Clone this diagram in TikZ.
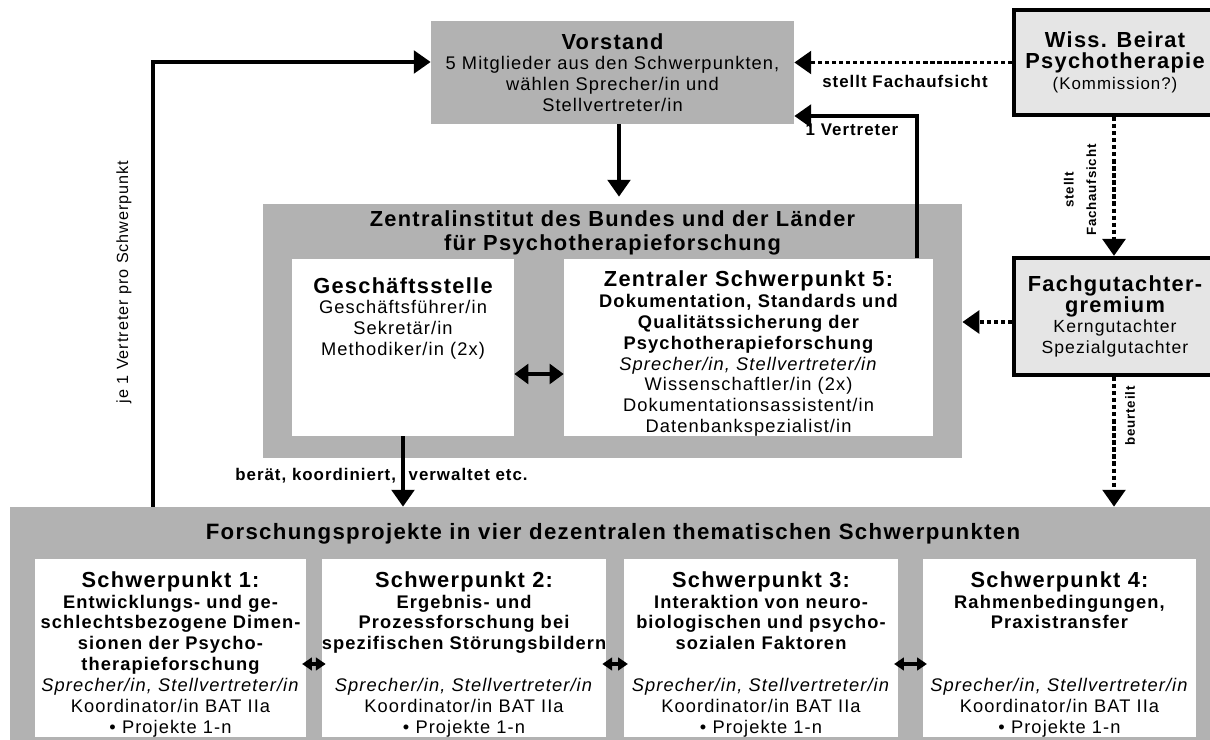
\documentclass[tikz,border=0pt]{standalone}
\usepackage{fontspec}
\setmainfont{Liberation Sans}[LetterSpace=6]
\usetikzlibrary{arrows.meta}

\newcommand{\grundschrift}{\fontsize{13}{14.8}\selectfont}
\newcommand{\kopfschrift}{\bfseries\fontsize{15.5}{17.5}\selectfont}
\newcommand{\unterschrift}{\bfseries\fontsize{13}{14.8}\selectfont}
\newcommand{\oben}{\rule{0pt}{20pt}}

\begin{document}
\begin{tikzpicture}[x=0.025cm,y=-0.025cm,
  grau/.style={fill=black!30,inner sep=0pt},
  weiss/.style={fill=white,inner sep=0pt,align=center,font=\grundschrift},
  hell/.style={fill=black!10,draw=black,line width=3pt,inner sep=0pt,align=center,font=\grundschrift},
  pfeil/.style={line width=2.8pt,-{Triangle[length=12pt,width=16pt]}},
  punktpfeil/.style={pfeil,dash pattern=on 3pt off 2pt},
  doppel/.style={line width=2.8pt,{Triangle[length=10pt,width=14pt]}-{Triangle[length=10pt,width=14pt]}},
  klein/.style={line width=2.8pt,{Triangle[length=7pt,width=9pt]}-{Triangle[length=7pt,width=9pt]},shorten <=-3pt,shorten >=-3pt},
  beschr/.style={font=\bfseries\fontsize{12}{14}\selectfont,inner sep=0pt,align=center},
  drehbeschr/.style={font=\bfseries\fontsize{9.5}{16}\selectfont,inner sep=0pt,align=center,rotate=90}]
\clip (0,0) rectangle (1210,740);

% obere Ebene
\node[grau,align=center,font=\grundschrift,minimum width=9.075cm,minimum height=2.575cm] (vorstand) at (612.5,72.5)
  {{\kopfschrift Vorstand}\\5 Mitglieder aus den Schwerpunkten,\\wählen Sprecher/in und\\Stellvertreter/in};
\node[hell,minimum width=5.05cm,minimum height=2.625cm] (beirat) at (1115,62.5)
  {{\kopfschrift Wiss. Beirat}\\{\kopfschrift Psychotherapie}\\{\fontsize{12}{14}\selectfont(Kommission?)}};
\node[hell,minimum width=5.05cm,minimum height=2.925cm] (gremium) at (1115,316.5)
  {{\kopfschrift Fachgutachter-}\\{\kopfschrift gremium}\\{\fontsize{12.5}{16}\selectfont Kerngutachter}\\{\fontsize{12.5}{14}\selectfont Spezialgutachter}};

% Zentralinstitut
\node[grau,minimum width=17.475cm,minimum height=6.35cm] (zentral) at (612.5,331) {};
\node[font=\bfseries\fontsize{15.5}{17}\selectfont,align=center,inner sep=0pt] (zentraltitel) at (612.5,233)
  {Zentralinstitut des Bundes und der Länder\\für Psychotherapieforschung};
\node[weiss,minimum width=5.55cm,minimum height=4.425cm] (gst) at (403,347.5) {};
\node[font=\grundschrift,align=center,inner sep=0pt,anchor=north] (gsttext) at (403,277)
  {{\kopfschrift Geschäftsstelle}\\Geschäftsführer/in\\Sekretär/in\\Methodiker/in (2x)};
\node[weiss,minimum width=9.225cm,minimum height=4.425cm] (zsp) at (748.5,347.5)
  {\oben{\kopfschrift Zentraler Schwerpunkt 5:}\\{\unterschrift Dokumentation, Standards und}\\{\unterschrift Qualitätssicherung der}\\{\unterschrift Psychotherapieforschung}\\\textit{Sprecher/in, Stellvertreter/in}\\Wissenschaftler/in (2x)\\Dokumentationsassistent/in\\Datenbankspezialist/in};

% Forschungsprojekte
\node[grau,minimum width=30.125cm,minimum height=5.825cm] (forschung) at (612.5,623.5) {};
\node[font=\bfseries\fontsize{15.8}{17}\selectfont,inner sep=0pt] (forschtitel) at (613,534)
  {Forschungsprojekte in vier dezentralen thematischen Schwerpunkten};
\node[weiss,minimum width=6.775cm,minimum height=4.4cm] (sp1) at (170.5,648)
  {\oben{\kopfschrift Schwerpunkt 1:}\\{\unterschrift Entwicklungs- und ge-}\\{\unterschrift schlechtsbezogene Dimen-}\\{\unterschrift sionen der Psycho-}\\{\unterschrift therapieforschung}\\\textit{Sprecher/in, Stellvertreter/in}\\Koordinator/in BAT IIa\\\textbullet{} Projekte 1-n};
\node[weiss,minimum width=6.75cm,minimum height=4.4cm] (sp2) at (464,648)
  {\oben{\kopfschrift Schwerpunkt 2:}\\{\unterschrift Ergebnis- und}\\{\unterschrift Prozessforschung bei}\\{\unterschrift spezifischen Störungsbildern}\\\mbox{}\\\textit{Sprecher/in, Stellvertreter/in}\\Koordinator/in BAT IIa\\\textbullet{} Projekte 1-n};
\node[weiss,minimum width=6.85cm,minimum height=4.4cm] (sp3) at (761,648)
  {\oben{\kopfschrift Schwerpunkt 3:}\\{\unterschrift Interaktion von neuro-}\\{\unterschrift biologischen und psycho-}\\{\unterschrift sozialen Faktoren}\\\mbox{}\\\textit{Sprecher/in, Stellvertreter/in}\\Koordinator/in BAT IIa\\\textbullet{} Projekte 1-n};
\node[weiss,minimum width=6.825cm,minimum height=4.4cm] (sp4) at (1059.5,648)
  {\oben{\kopfschrift Schwerpunkt 4:}\\{\unterschrift Rahmenbedingungen,}\\{\unterschrift Praxistransfer}\\\mbox{}\\\mbox{}\\\textit{Sprecher/in, Stellvertreter/in}\\Koordinator/in BAT IIa\\\textbullet{} Projekte 1-n};

% Hilfspunkte
\coordinate (jev) at (153,62);
\coordinate (einv) at (917,116);
\coordinate (vx) at (619,0);
\coordinate (gy) at (0,374);
\coordinate (fy) at (0,322);
\coordinate (spy) at (0,664);

% Verbindungen
\draw[pfeil] (forschung.north -| jev) |- (vorstand.west |- jev);
\node[font=\fontsize{11.5}{13}\selectfont,rotate=90,inner sep=0pt] (jetext) at (124,282) {je 1 Vertreter pro Schwerpunkt};
\draw[punktpfeil] (beirat.west) -- (beirat.west -| vorstand.east);
\node[beschr] (aufsicht1) at (905,81) {stellt Fachaufsicht};
\draw[pfeil] (zsp.north -| einv) |- (vorstand.east |- einv);
\node[beschr] (vertreter) at (852,130) {1 Vertreter};
\draw[pfeil] (vorstand.south -| vx) -- ([yshift=5pt]zentral.north -| vx);
\draw[doppel] (gst.east |- gy) -- (zsp.west |- gy);
\draw[pfeil] (gst.south) -- (gst.south |- forschung.north);
\node[beschr] (beraet) at (381.5,476) {berät, koordiniert,\hspace{9pt}verwaltet etc.};
\draw[punktpfeil] (beirat.south -| 1114,0) -- (gremium.north -| 1114,0);
\node[drehbeschr] (aufsicht2) at (1080,190) {stellt\\Fachaufsicht};
\draw[punktpfeil] (gremium.west |- fy) -- (zentral.east |- fy);
\draw[punktpfeil] (gremium.south -| 1114,0) -- (forschung.north -| 1114,0);
\node[drehbeschr] (beurteilt) at (1130,416) {beurteilt};
\draw[klein] (sp1.east |- spy) -- (sp2.west |- spy);
\draw[klein] (sp2.east |- spy) -- (sp3.west |- spy);
\draw[klein] (sp3.east |- spy) -- (sp4.west |- spy);
\end{tikzpicture}
\end{document}
